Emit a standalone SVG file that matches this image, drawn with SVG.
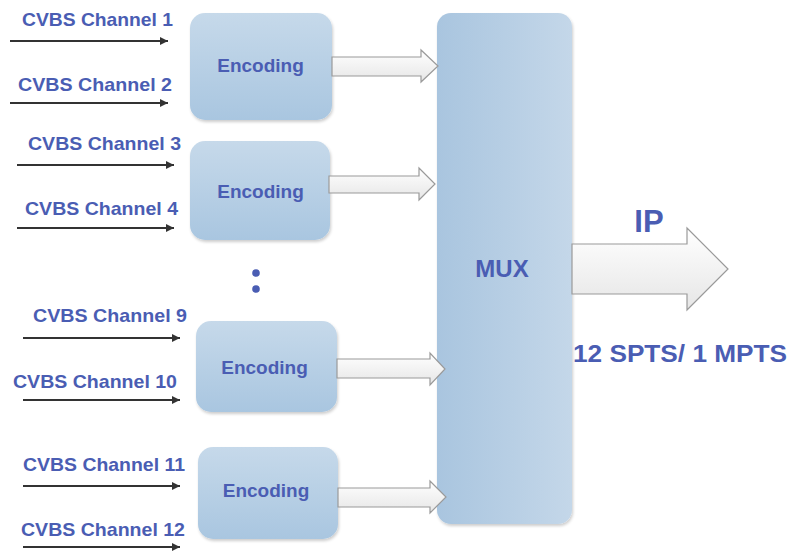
<svg xmlns="http://www.w3.org/2000/svg" width="790" height="552" viewBox="0 0 790 552">
<defs>
<linearGradient id="encGrad" x1="0" y1="0" x2="0" y2="1">
<stop offset="0" stop-color="#c6d9ea"/>
<stop offset="1" stop-color="#a9c6e0"/>
</linearGradient>
<linearGradient id="muxGrad" x1="0" y1="0" x2="1" y2="0">
<stop offset="0" stop-color="#a9c5df"/>
<stop offset="1" stop-color="#c4d7e9"/>
</linearGradient>
<linearGradient id="arrGrad" x1="0" y1="0" x2="0" y2="1">
<stop offset="0" stop-color="#ffffff"/>
<stop offset="1" stop-color="#e6e6e6"/>
</linearGradient>
<marker id="ah" viewBox="0 0 10 10" refX="10" refY="5" markerWidth="11" markerHeight="8" markerUnits="userSpaceOnUse" orient="auto">
<path d="M0,0 L10,5 L0,10 z" fill="#333"/>
</marker>
<filter id="sh" x="-10%" y="-10%" width="130%" height="130%">
<feGaussianBlur in="SourceAlpha" stdDeviation="1.5"/>
<feOffset dx="1" dy="1.5" result="b"/>
<feComponentTransfer><feFuncA type="linear" slope="0.2"/></feComponentTransfer>
<feMerge><feMergeNode/><feMergeNode in="SourceGraphic"/></feMerge>
</filter>
</defs>
<style>
.lbl{font-family:"Liberation Sans",Arial,sans-serif;font-weight:bold;fill:#4a5db3;}
.ch{font-size:19px;}
.enc{font-size:19px;}
.in{stroke:#333;stroke-width:2.2;fill:none;marker-end:url(#ah);}
.blk{fill:url(#arrGrad);stroke:#9a9a9a;stroke-width:1.2;}
.box{fill:url(#encGrad);filter:url(#sh);}
</style>
<rect width="790" height="552" fill="#ffffff"/>

<g id="connectors">
<line class="in" x1="10" y1="41" x2="168" y2="41"/>
<line class="in" x1="10" y1="103" x2="168" y2="103"/>
<line class="in" x1="17" y1="165" x2="174" y2="165"/>
<line class="in" x1="17" y1="228" x2="174" y2="228"/>
<line class="in" x1="23" y1="338" x2="180" y2="338"/>
<line class="in" x1="23" y1="400" x2="180" y2="400"/>
<line class="in" x1="23" y1="486" x2="180" y2="486"/>
<line class="in" x1="23" y1="547" x2="180" y2="547"/>
</g>

<g id="mux">
<rect x="437" y="13" width="135" height="511" rx="14" fill="url(#muxGrad)" filter="url(#sh)"/>
<text class="lbl" x="502" y="277" font-size="24" text-anchor="middle">MUX</text>
</g>

<g id="enc1">
<rect class="box" x="190" y="13" width="142" height="107" rx="15"/>
<text class="lbl enc" x="260.5" y="72" text-anchor="middle">Encoding</text>
</g>
<g id="enc2">
<rect class="box" x="190" y="141" width="140" height="99" rx="15"/>
<text class="lbl enc" x="260.5" y="198" text-anchor="middle">Encoding</text>
</g>
<g id="enc3">
<rect class="box" x="196" y="321" width="141" height="91" rx="15"/>
<text class="lbl enc" x="264.5" y="374" text-anchor="middle">Encoding</text>
</g>
<g id="enc4">
<rect class="box" x="198" y="447" width="140" height="92" rx="15"/>
<text class="lbl enc" x="266" y="497" text-anchor="middle">Encoding</text>
</g>

<g id="blockarrows">
<path class="blk" d="M332,57 L421,57 L421,50 L438,66 L421,82 L421,76 L332,76 Z"/>
<path class="blk" d="M329,176 L419,176 L419,168 L435,184 L419,200 L419,193 L329,193 Z"/>
<path class="blk" d="M337,359 L430,359 L430,353 L445,369 L430,385 L430,378 L337,378 Z"/>
<path class="blk" d="M338,488 L430,488 L430,481 L446,497 L430,513 L430,507 L338,507 Z"/>
</g>

<g id="ip-arrow">
<path class="blk" d="M572,244 L687,244 L687,228 L728,269 L687,310 L687,294 L572,294 Z"/>
<text class="lbl" x="649" y="232" font-size="31" text-anchor="middle">IP</text>
<text class="lbl" x="680" y="362" font-size="24" text-anchor="middle" textLength="214" lengthAdjust="spacingAndGlyphs">12 SPTS/ 1 MPTS</text>
</g>

<g id="dots">
<circle cx="256" cy="273" r="3.8" fill="#4a5db3"/>
<circle cx="256" cy="289" r="3.8" fill="#4a5db3"/>
</g>

<g id="labels">
<text class="lbl ch" x="22" y="26" textLength="151" lengthAdjust="spacingAndGlyphs">CVBS Channel 1</text>
<text class="lbl ch" x="18" y="91" textLength="154" lengthAdjust="spacingAndGlyphs">CVBS Channel 2</text>
<text class="lbl ch" x="28" y="150" textLength="153" lengthAdjust="spacingAndGlyphs">CVBS Channel 3</text>
<text class="lbl ch" x="25" y="215" textLength="153" lengthAdjust="spacingAndGlyphs">CVBS Channel 4</text>
<text class="lbl ch" x="33" y="322" textLength="154" lengthAdjust="spacingAndGlyphs">CVBS Channel 9</text>
<text class="lbl ch" x="13" y="388" textLength="164" lengthAdjust="spacingAndGlyphs">CVBS Channel 10</text>
<text class="lbl ch" x="23" y="471" textLength="162" lengthAdjust="spacingAndGlyphs">CVBS Channel 11</text>
<text class="lbl ch" x="21" y="536" textLength="164" lengthAdjust="spacingAndGlyphs">CVBS Channel 12</text>
</g>
</svg>
